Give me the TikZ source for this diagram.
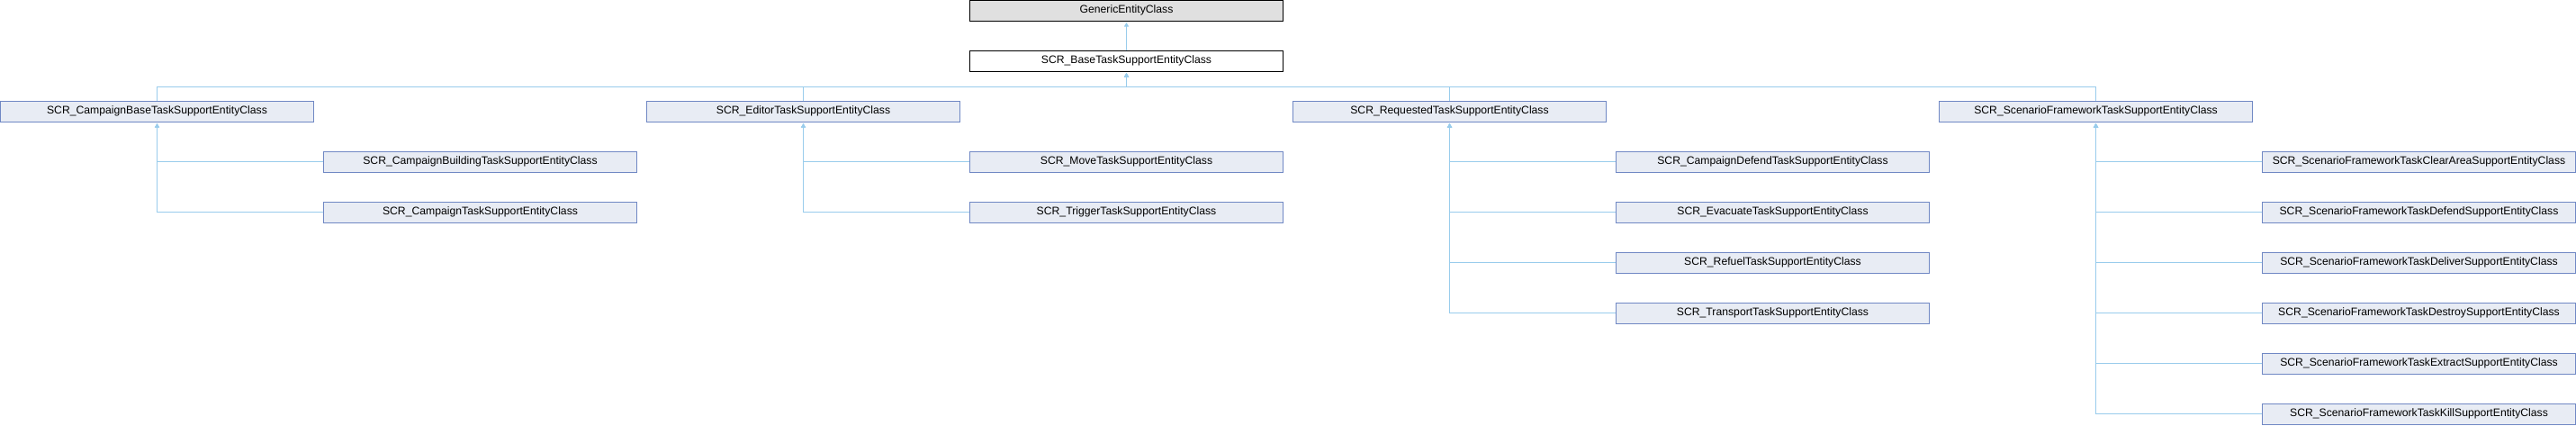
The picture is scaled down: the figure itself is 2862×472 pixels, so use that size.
\documentclass[tikz,border=0pt]{standalone}
\usepackage{fontspec}
\setmainfont{Liberation Sans}
\usetikzlibrary{arrows.meta}
\definecolor{boxfill}{RGB}{232,236,244}
\definecolor{boxline}{RGB}{112,136,196}
\definecolor{inhblue}{RGB}{153,204,236}
\definecolor{rootfill}{RGB}{224,224,224}
\begin{document}
\begin{tikzpicture}[x=1pt,y=-1pt,
  cls/.style={draw=boxline,fill=boxfill,line width=1pt,minimum width=348pt,minimum height=22.5pt,inner sep=0pt,font=\fontsize{12.2}{14}\selectfont},
  rootcls/.style={cls,draw=black,fill=#1},
  inh/.style={draw=inhblue,line width=1pt,-{Triangle[length=4.5pt,width=5pt]},shorten >=1.5pt}]

\useasboundingbox (0,0) rectangle (2862,472);

\node [rootcls=rootfill] (g) at (1251.5,11.75) {GenericEntityClass};
\node [rootcls=white] (b) at (1251.5,67.75) {SCR\_BaseTaskSupportEntityClass};

\node [cls] (cb) at (174.5,123.75) {SCR\_CampaignBaseTaskSupportEntityClass};
\node [cls] (ed) at (892.5,123.75) {SCR\_EditorTaskSupportEntityClass};
\node [cls] (rq) at (1610.5,123.75) {SCR\_RequestedTaskSupportEntityClass};
\node [cls] (sf) at (2328.5,123.75) {SCR\_ScenarioFrameworkTaskSupportEntityClass};

\node [cls] (cb1) at (533.5,179.75) {SCR\_CampaignBuildingTaskSupportEntityClass};
\node [cls] (cb2) at (533.5,235.75) {SCR\_CampaignTaskSupportEntityClass};

\node [cls] (ed1) at (1251.5,179.75) {SCR\_MoveTaskSupportEntityClass};
\node [cls] (ed2) at (1251.5,235.75) {SCR\_TriggerTaskSupportEntityClass};

\node [cls] (rq1) at (1969.5,179.75) {SCR\_CampaignDefendTaskSupportEntityClass};
\node [cls] (rq2) at (1969.5,235.75) {SCR\_EvacuateTaskSupportEntityClass};
\node [cls] (rq3) at (1969.5,291.75) {SCR\_RefuelTaskSupportEntityClass};
\node [cls] (rq4) at (1969.5,347.75) {SCR\_TransportTaskSupportEntityClass};

\node [cls] (sf1) at (2687.5,179.75) {SCR\_ScenarioFrameworkTaskClearAreaSupportEntityClass};
\node [cls] (sf2) at (2687.5,235.75) {SCR\_ScenarioFrameworkTaskDefendSupportEntityClass};
\node [cls] (sf3) at (2687.5,291.75) {SCR\_ScenarioFrameworkTaskDeliverSupportEntityClass};
\node [cls] (sf4) at (2687.5,347.75) {SCR\_ScenarioFrameworkTaskDestroySupportEntityClass};
\node [cls] (sf5) at (2687.5,403.75) {SCR\_ScenarioFrameworkTaskExtractSupportEntityClass};
\node [cls] (sf6) at (2687.5,459.75) {SCR\_ScenarioFrameworkTaskKillSupportEntityClass};

\draw [inh] (b.north) -- (g.south);

\coordinate (bus) at (1251.5,96);
\draw [inh] (cb.north) |- (bus) -- (b.south);
\draw [inh] (ed.north) |- (bus) -- (b.south);
\draw [inh] (rq.north) |- (bus) -- (b.south);
\draw [inh] (sf.north) |- (bus) -- (b.south);

\draw [inh] (cb1.west) -| (cb.south);
\draw [inh] (cb2.west) -| (cb.south);

\draw [inh] (ed1.west) -| (ed.south);
\draw [inh] (ed2.west) -| (ed.south);

\draw [inh] (rq1.west) -| (rq.south);
\draw [inh] (rq2.west) -| (rq.south);
\draw [inh] (rq3.west) -| (rq.south);
\draw [inh] (rq4.west) -| (rq.south);

\draw [inh] (sf1.west) -| (sf.south);
\draw [inh] (sf2.west) -| (sf.south);
\draw [inh] (sf3.west) -| (sf.south);
\draw [inh] (sf4.west) -| (sf.south);
\draw [inh] (sf5.west) -| (sf.south);
\draw [inh] (sf6.west) -| (sf.south);

\end{tikzpicture}
\end{document}
